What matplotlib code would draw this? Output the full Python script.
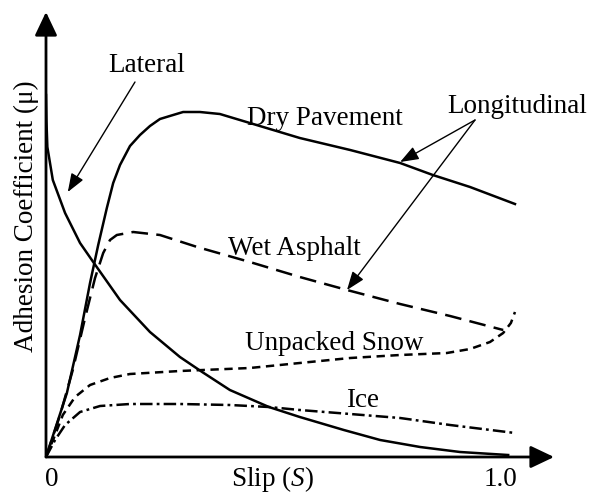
import matplotlib
matplotlib.use("Agg")
import matplotlib.pyplot as plt

plt.rcParams['font.family'] = ['Liberation Serif', 'DejaVu Serif']
plt.rcParams['lines.scale_dashes'] = False
plt.rcParams['mathtext.fontset'] = 'custom'
plt.rcParams['mathtext.it'] = 'Liberation Serif:italic'
plt.rcParams['mathtext.rm'] = 'Liberation Serif'

# Slip values and adhesion coefficients read from the schematic
dry_x = [0, 0.046, 0.075, 0.097, 0.115, 0.134, 0.148, 0.163, 0.185, 0.207, 0.229, 0.251, 0.280, 0.302, 0.339, 0.383, 0.449, 0.559, 0.670, 0.780, 0.852, 0.934, 1.033]
dry_y = [0, 0.16, 0.305, 0.435, 0.53, 0.6225, 0.685, 0.73, 0.7775, 0.805, 0.8275, 0.845, 0.855, 0.8625, 0.8625, 0.8575, 0.835, 0.7975, 0.7675, 0.735, 0.705, 0.675, 0.6325]

wet_x = [0, 0.031, 0.059, 0.086, 0.108, 0.126, 0.141, 0.156, 0.192, 0.251, 0.333, 0.449, 0.559, 0.663, 0.780, 0.890, 1.007]
wet_y = [0, 0.105, 0.2175, 0.3475, 0.4475, 0.51, 0.5425, 0.555, 0.5625, 0.555, 0.525, 0.4875, 0.45, 0.4175, 0.3825, 0.3525, 0.3175]

lat_x = [0, 0.001, 0.003, 0.015, 0.042, 0.075, 0.104, 0.163, 0.229, 0.295, 0.344, 0.405, 0.491, 0.559, 0.656, 0.736, 0.824, 0.912, 1.018]
lat_y = [0.905, 0.84, 0.775, 0.6925, 0.61, 0.535, 0.4875, 0.3925, 0.3125, 0.25, 0.2125, 0.1675, 0.125, 0.1, 0.0675, 0.0425, 0.025, 0.0125, 0.005]

snow_x = [0, 0.020, 0.037, 0.064, 0.097, 0.141, 0.185, 0.295, 0.449, 0.559, 0.670, 0.780, 0.883, 0.934, 0.978, 1.007, 1.024, 1.033]
snow_y = [0, 0.055, 0.105, 0.15, 0.18, 0.1975, 0.2075, 0.215, 0.2225, 0.235, 0.2475, 0.255, 0.26, 0.27, 0.2875, 0.31, 0.335, 0.3625]

ice_x = [0, 0.020, 0.042, 0.075, 0.119, 0.185, 0.295, 0.405, 0.491, 0.559, 0.670, 0.780, 0.890, 1.033]
ice_y = [0, 0.0425, 0.08, 0.1125, 0.1275, 0.1325, 0.1325, 0.13, 0.125, 0.1175, 0.1075, 0.0975, 0.08, 0.06]

curve_labels = ["Dry Pavement", "Wet Asphalt", "Unpacked Snow", "Ice"]
x_tick_labels = ["0", "1.0"]
x_tick_pos = [0.0, 1.0]

W, H = 597, 493
fig = plt.figure(figsize=(W / 100, H / 100), dpi=100)
ax = fig.add_axes([46 / W, 36 / H, 551 / W, 457 / H])
ax.set_xlim(0, 551 / 454)
ax.set_ylim(0, 457 / 400)
ax.axis('off')

lw = 1.8
ax.plot(dry_x, dry_y, color='black', lw=lw, solid_joinstyle='round')
ax.plot(lat_x, lat_y, color='black', lw=lw, solid_joinstyle='round')
ax.plot(wet_x, wet_y, color='black', lw=lw, linestyle=(0, (12, 6)))
ax.plot(snow_x, snow_y, color='black', lw=lw, linestyle=(0, (6, 4)))
ax.plot(ice_x, ice_y, color='black', lw=lw, linestyle=(0, (9, 3, 2, 3)))

# axes with arrows
axis_style = dict(arrowstyle='-|>,head_length=0.8,head_width=0.38', lw=2.0, color='black',
                  mutation_scale=18, shrinkA=0, shrinkB=0)
ax.annotate('', xy=(0, 1.1125), xytext=(0, 0), xycoords='data', arrowprops=axis_style,
            annotation_clip=False)
ax.annotate('', xy=(1.119, 0), xytext=(0, 0), xycoords='data', arrowprops=axis_style,
            annotation_clip=False)

fs = 19.5
ax.text(0.615, 0.83, curve_labels[0], fontsize=fs, ha='center', va='baseline')
ax.text(0.548, 0.505, curve_labels[1], fontsize=fs, ha='center', va='baseline')
ax.text(0.634, 0.2675, curve_labels[2], fontsize=fs, ha='center', va='baseline')
ax.text(0.698, 0.125, curve_labels[3], fontsize=fs, ha='center', va='baseline')

small_arrow = dict(arrowstyle='-|>,head_length=0.75,head_width=0.28', lw=1.0, color='black',
                   mutation_scale=15, shrinkA=0, shrinkB=0)
ax.text(0.222, 0.9625, "Lateral", fontsize=fs, ha='center', va='baseline')
ax.annotate('', xy=(0.048, 0.6625), xytext=(0.196, 0.9375), arrowprops=small_arrow)

ax.text(1.037, 0.86, "Longitudinal", fontsize=fs, ha='center', va='baseline')
ax.annotate('', xy=(0.780, 0.7375), xytext=(0.945, 0.8425), arrowprops=small_arrow)
ax.annotate('', xy=(0.663, 0.4175), xytext=(0.945, 0.8425), arrowprops=small_arrow)

ax.text(x_tick_pos[0] + 0.013, -0.072, x_tick_labels[0], fontsize=fs, ha='center', va='baseline')
ax.text(x_tick_pos[1], -0.072, x_tick_labels[1], fontsize=fs, ha='center', va='baseline')
ax.text(0.498, -0.072, r"Slip ($S$)", fontsize=fs, ha='center', va='baseline')
ax.text(-0.044, 0.6025, "Adhesion Coefficient (\u03bc)", fontsize=fs, ha='center', va='center',
        rotation=90)

fig.savefig("out.png", dpi=100)
